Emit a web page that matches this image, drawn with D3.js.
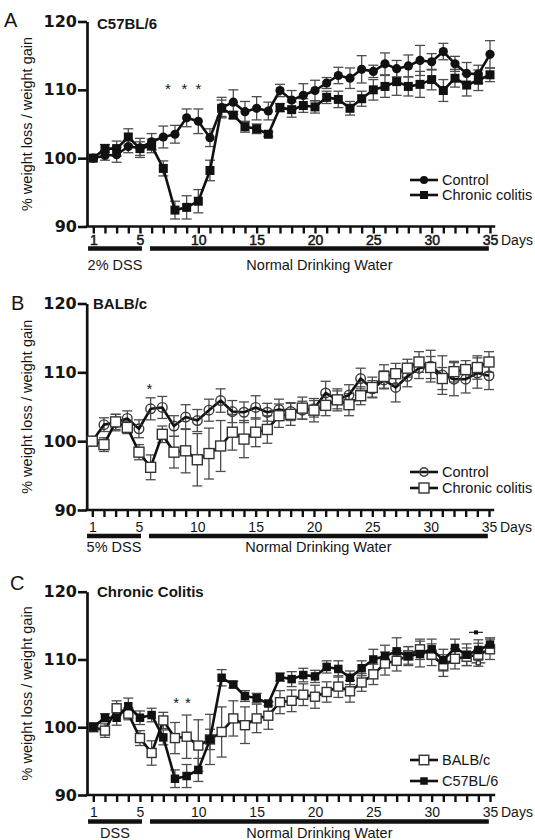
<!DOCTYPE html>
<html>
<head>
<meta charset="utf-8">
<script src="https://cdn.jsdelivr.net/npm/d3@7"></script>
<style>
body{margin:0;background:#fff}
svg{display:block}
text{font-family:"Liberation Sans",Arial,sans-serif;fill:#151515}
</style>
</head>
<body>
<div id="chart"></div>
<script>
"use strict";

// days on the x axis
let days = [1,2,3,4,5,6,7,8,9,10,11,12,13,14,15,16,17,18,19,20,21,22,23,24,25,26,27,28,29,30,31,32,33,34,35];
let dayLabels = [1,5,10,15,20,25,30,35];
let yTicks = [90,100,110,120];

// panel A : C57BL/6
let aControl = [100,100.4,100.5,101.7,101.5,102.4,103.1,103.5,105.9,105.4,103.0,107.4,108.2,106.8,107.3,106.9,109.9,108.5,109.2,109.9,111.0,112.1,111.7,113.0,112.7,113.8,113.1,113.5,114.3,114.1,115.6,113.8,112.4,112.3,115.2];
let aControlErr = [0,0.7,1.1,0.9,1.4,1.2,1.6,1.3,1.3,1.8,1.3,1.5,1.8,1.5,1.7,1.3,0.9,1.4,1.7,1.5,0.8,1.2,1.5,2.0,0.9,1.6,1.2,1.6,2.2,1.2,1.2,1.1,1.6,1.3,2.0];
let aColitis = [100,101.4,101.4,103.1,101.4,101.8,98.5,92.4,92.8,93.7,98.2,107.3,106.3,104.6,104.3,103.5,107.4,107.1,107.7,107.5,108.9,108.6,107.3,108.7,110.0,110.5,111.2,110.5,110.8,111.5,109.9,111.7,110.7,111.4,112.2];
let aColitisErr = [0,0.6,1.1,1.2,1.0,1.0,1.1,1.3,1.7,1.7,1.5,1.2,0.5,0.8,0.7,0.3,0.6,1.1,1.0,0.9,0.9,1.2,1.0,1.1,1.5,1.6,2.0,1.4,1.9,1.5,1.6,1.3,1.6,1.5,1.0];

// panel B : BALB/c
let bControl = [100,102.4,102.7,103.3,101.8,104.7,104.9,102.2,103.5,103.0,104.5,105.9,104.3,104.2,104.9,104.2,104.6,104.3,104.5,104.7,107.0,106.0,106.7,109.1,107.6,108.9,107.8,109.4,110.6,110.9,109.6,109.0,109.0,109.9,109.5];
let bControlErr = [0,1.0,1.2,1.1,1.3,1.6,1.6,1.5,1.8,1.6,1.6,1.7,1.6,1.5,1.7,1.3,1.5,1.3,1.3,1.2,1.7,1.3,1.5,1.5,1.2,1.3,2.1,1.5,1.5,2.3,2.8,2.4,2.0,2.2,2.0];
let bColitis = [100,99.5,102.8,102.0,98.4,96.2,101.0,98.4,98.6,97.3,98.2,99.3,101.3,100.3,101.3,101.7,103.7,103.9,104.8,104.5,105.2,106.0,105.3,106.6,107.8,109.4,109.8,110.6,111.5,110.7,109.1,110.1,110.4,110.7,111.5];
let bColitisErr = [0,1.0,1.1,0.9,1.1,1.8,1.2,2.3,3.2,3.8,3.7,3.7,2.6,2.7,2.1,2.0,1.7,1.6,1.6,1.7,1.5,1.6,1.6,1.3,1.5,1.7,1.5,1.3,1.5,1.6,1.6,1.5,1.3,1.7,1.5];

// panel C : chronic colitis, both strains (same groups as above)
let cBalb = bColitis;
let cBalbErr = bColitisErr;
let cC57 = aColitis;
let cC57Err = aColitisErr;
let cStray = [{day:33.8, value:114.0, type:"filledSquare"}, {day:34.0, value:109.5, type:"openSquare"}];

// significance stars
let aStars = [{day:7.4, value:110.6},{day:8.8, value:110.6},{day:10.0, value:110.6}];
let bStars = [{day:5.9, value:108.0}];
let cStars = [{day:8.1, value:104.0},{day:9.1, value:104.0}];

// treatment phases under the axis
let phaseLabelsA = ["2% DSS","Normal Drinking Water"];
let phaseLabelsB = ["5% DSS","Normal Drinking Water"];
let phaseLabelsC = ["DSS","Normal Drinking Water"];
let phaseDays = [[0.55,5.17],[5.86,34.9]];

let svg = d3.select("#chart")
.append("svg")
.attr("width",535)
.attr("height",840);

svg.append("rect").attr("width",535).attr("height",840).attr("fill","#fff");

let panels = [
 {letter:"A", letterX:4, letterY:27, title:"C57BL/6", titleX:97, titleY:29,
  top:21.5, bottom:226.5, x1:93.3, x35:490, axisX:87, tickPad:2, bold:true,
  barY:248.5, phaseY:270, phaseLabels:phaseLabelsA, stars:aStars,
  series:[
   {values:aColitis, errors:aColitisErr, marker:"filledSquare", size:9},
   {values:aControl, errors:aControlErr, marker:"filledCircle", size:4.6}],
  legend:[{label:"Control", marker:"filledCircle", size:4, y:180},
          {label:"Chronic colitis", marker:"filledSquare", size:8, y:195}],
  legendBox:false},
 {letter:"B", letterX:11, letterY:310, title:"BALB/c", titleX:93, titleY:309,
  top:303.5, bottom:510, x1:92.3, x35:489, axisX:86.7, tickPad:5, bold:false,
  barY:536, phaseY:552, phaseLabels:phaseLabelsB, stars:bStars,
  series:[
   {values:bControl, errors:bControlErr, marker:"openCircle", size:4.8},
   {values:bColitis, errors:bColitisErr, marker:"openSquare", size:10}],
  legend:[{label:"Control", marker:"openCircle", size:4.2, y:472},
          {label:"Chronic colitis", marker:"openSquare", size:10, y:488}],
  legendBox:false},
 {letter:"C", letterX:10, letterY:590, title:"Chronic Colitis", titleX:97, titleY:597,
  top:591.7, bottom:795, x1:93.3, x35:490, axisX:87, tickPad:5, bold:false,
  barY:821.5, phaseY:838, phaseLabels:phaseLabelsC, stars:cStars,
  series:[
   {values:cBalb, errors:cBalbErr, marker:"openSquare", size:9},
   {values:cC57, errors:cC57Err, marker:"filledSquare", size:8.5}],
  legend:[{label:"BALB/c", marker:"openSquare", size:9.5, y:760},
          {label:"C57BL/6", marker:"filledSquare", size:7.5, y:781}],
  legendBox:true, stray:cStray}
];

function drawMarkers(g, points, type, size){
 if(type==="filledCircle" || type==="openCircle"){
  g.selectAll(null)
  .data(points)
  .join("circle")
  .attr("cx", d => d.x)
  .attr("cy", d => d.y)
  .attr("r", size)
  .attr("fill", type==="filledCircle" ? "#111" : "none")
  .attr("stroke", type==="filledCircle" ? "none" : "#3a3a3a")
  .attr("stroke-width", 1.4);
 } else {
  g.selectAll(null)
  .data(points)
  .join("rect")
  .attr("x", d => d.x-size/2)
  .attr("y", d => d.y-size/2)
  .attr("width", size)
  .attr("height", size)
  .attr("fill", type==="filledSquare" ? "#111" : "#fff")
  .attr("stroke", type==="filledSquare" ? "none" : "#333")
  .attr("stroke-width", 1.4);
 }
}

function drawPanel(p){
 let g = svg.append("g");

 let x = d3.scaleLinear().domain([1,35]).range([p.x1,p.x35]);
 let y = d3.scaleLinear().domain([90,120]).range([p.bottom,p.top]);

 // legend background in panel C
 if(p.legendBox){
  g.append("rect").attr("x",404).attr("y",748).attr("width",100).attr("height",44).attr("fill","#fff");
 }

 // panel letter and title
 g.append("text").attr("x",p.letterX).attr("y",p.letterY)
 .style("font-size","20px").text(p.letter);
 g.append("text").attr("x",p.titleX).attr("y",p.titleY)
 .style("font-size","15px").style("font-weight","bold").text(p.title);

 // y axis
 let yAxis = d3.axisLeft(y).tickValues(yTicks).tickSize(9).tickSizeOuter(0).tickPadding(1);
 let ya = g.append("g").attr("transform","translate("+p.axisX+",0)").call(yAxis);
 ya.select(".domain").attr("stroke","#111").attr("stroke-width",2.7);
 ya.selectAll(".tick line").attr("stroke","#111").attr("stroke-width",2.6);
 ya.selectAll(".tick text")
 .style("font-family","'DejaVu Sans',sans-serif")
 .style("font-weight","bold")
 .style("font-size","16px")
 .attr("fill","#151515");

 // y axis title
 g.append("text")
 .attr("transform","translate(32,"+((p.top+p.bottom)/2)+") rotate(-90)")
 .attr("text-anchor","middle")
 .style("font-size","14.5px")
 .text("% weight loss / weight gain");

 // x axis
 let xAxis = d3.axisBottom(x).tickValues(days).tickSize(7).tickSizeOuter(0).tickPadding(p.tickPad)
 .tickFormat(d => dayLabels.includes(d) ? d : "");
 let xa = g.append("g").attr("transform","translate(0,"+p.bottom+")").call(xAxis);
 xa.select(".domain").remove();
 xa.selectAll(".tick line").attr("stroke","#111").attr("stroke-width",2.4);
 xa.selectAll(".tick text")
 .style("font-size","14px")
 .attr("fill","#151515")
 .attr("stroke", p.bold ? "#151515" : "none")
 .attr("stroke-width", 0.5);
 g.append("line")
 .attr("x1",p.axisX-1.3).attr("x2",x(35.45))
 .attr("y1",p.bottom).attr("y2",p.bottom)
 .attr("stroke","#111").attr("stroke-width",2.7);

 g.append("text")
 .attr("x",x(35)+11).attr("y",p.bottom+7+p.tickPad)
 .attr("dy","0.71em")
 .style("font-size","14px")
 .text("Days");

 // treatment bars
 g.selectAll(null)
 .data(phaseDays)
 .join("line")
 .attr("x1", d => x(d[0]))
 .attr("x2", d => x(d[1]))
 .attr("y1", p.barY).attr("y2", p.barY)
 .attr("stroke","#111").attr("stroke-width",4.5);

 g.selectAll(null)
 .data(phaseDays)
 .join("text")
 .attr("x", d => (x(d[0])+x(d[1]))/2)
 .attr("y", p.phaseY)
 .attr("text-anchor","middle")
 .style("font-size","14.5px")
 .text((d,i) => p.phaseLabels[i]);

 // error bars
 p.series.forEach(function(s){
  let pts = days.map((d,i) => ({day:d, v:s.values[i], e:s.errors[i]})).filter(d => d.e>0);
  let eg = g.append("g").attr("stroke","#4d4d4d").attr("stroke-width",1.3);
  eg.selectAll(null).data(pts).join("line")
  .attr("x1", d => x(d.day)).attr("x2", d => x(d.day))
  .attr("y1", d => y(d.v-d.e)).attr("y2", d => y(d.v+d.e));
  eg.selectAll(null).data(pts).join("line")
  .attr("x1", d => x(d.day)-5).attr("x2", d => x(d.day)+5)
  .attr("y1", d => y(d.v+d.e)).attr("y2", d => y(d.v+d.e));
  eg.selectAll(null).data(pts).join("line")
  .attr("x1", d => x(d.day)-5).attr("x2", d => x(d.day)+5)
  .attr("y1", d => y(d.v-d.e)).attr("y2", d => y(d.v-d.e));
 });

 // lines and markers
 p.series.forEach(function(s){
  let line = d3.line().x((d,i) => x(days[i])).y(d => y(d));
  g.append("path")
  .attr("d", line(s.values))
  .attr("fill","none")
  .attr("stroke","#111")
  .attr("stroke-width",2.6)
  .attr("stroke-linejoin","round");
  let pts = days.map((d,i) => ({x:x(d), y:y(s.values[i])}));
  drawMarkers(g, pts, s.marker, s.size);
 });

 // stray cap marks (panel C)
 if(p.stray){
  p.stray.forEach(function(m){
   g.append("line")
   .attr("x1",x(m.day)-7).attr("x2",x(m.day)+7)
   .attr("y1",y(m.value)).attr("y2",y(m.value))
   .attr("stroke","#333").attr("stroke-width",1.3);
   drawMarkers(g, [{x:x(m.day), y:y(m.value)}], m.type, 4);
  });
 }

 // stars
 g.selectAll(null)
 .data(p.stars)
 .join("text")
 .attr("x", d => x(d.day))
 .attr("y", d => y(d.value)+8)
 .attr("text-anchor","middle")
 .style("font-size","15px")
 .text("*");

 // legend
 p.legend.forEach(function(l){
  g.append("line")
  .attr("x1",410).attr("x2",438)
  .attr("y1",l.y).attr("y2",l.y)
  .attr("stroke","#111").attr("stroke-width",2.6);
  drawMarkers(g, [{x:424, y:l.y}], l.marker, l.size);
  g.append("text")
  .attr("x",442).attr("y",l.y+5)
  .style("font-size","14.5px")
  .text(l.label);
 });
}

panels.forEach(drawPanel);
</script>
</body>
</html>
